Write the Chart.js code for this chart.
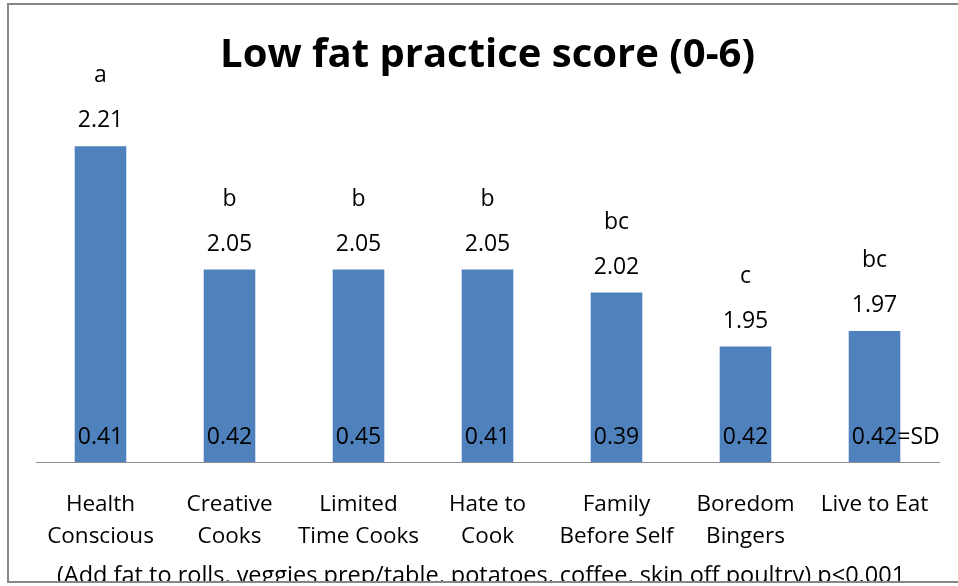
<!DOCTYPE html>
<html>
<head>
<meta charset="utf-8">
<script src="https://cdn.jsdelivr.net/npm/chart.js@4/dist/chart.umd.min.js"></script>
<style>
  html, body { margin: 0; padding: 0; background: #fff; }
  #wrap { width: 958px; height: 586px; position: relative; }
</style>
</head>
<body>
<div id="wrap"><canvas id="c" width="958" height="586"></canvas></div>
<script>
// Cook-type segments and their low fat practice scores
const categories = [
  ['Health', 'Conscious'],
  ['Creative', 'Cooks'],
  ['Limited', 'Time Cooks'],
  ['Hate to', 'Cook'],
  ['Family', 'Before Self'],
  ['Boredom', 'Bingers'],
  'Live to Eat'
];
const meanScores = [2.21, 2.05, 2.05, 2.05, 2.02, 1.95, 1.97];
const sdValues = [0.41, 0.42, 0.45, 0.41, 0.39, 0.42, 0.42];
const groupLetters = ['a', 'b', 'b', 'b', 'bc', 'c', 'bc'];
const yRange = [1.8, 2.3];

const FONT = '"Open Sans", "DejaVu Sans", sans-serif';
const footnote = '(Add fat to rolls, veggies prep/table, potatoes, coffee, skin off poultry) p<0.001';

// Mean, letter and SD labels plus the outer frame and footnote
const annotate = {
  id: 'annotate',
  afterDatasetsDraw(chart) {
    const ctx = chart.ctx;
    const meta = chart.getDatasetMeta(0);
    const area = chart.chartArea;
    ctx.save();
    ctx.fillStyle = '#000';
    ctx.textAlign = 'center';
    ctx.textBaseline = 'alphabetic';
    ctx.font = '23px ' + FONT;
    meta.data.forEach((bar, i) => {
      ctx.fillText(meanScores[i].toFixed(2), bar.x, bar.y - 19);
      ctx.fillText(groupLetters[i], bar.x, bar.y - 64);
      const sdText = sdValues[i].toFixed(2);
      ctx.fillText(sdText, bar.x, area.bottom - 18);
      if (i === meta.data.length - 1) {
        const w = ctx.measureText(sdText).width;
        ctx.textAlign = 'left';
        ctx.fillText('=SD', bar.x + w / 2, area.bottom - 18);
        ctx.textAlign = 'center';
      }
    });
    // footnote, cut off by the frame's lower edge
    ctx.save();
    ctx.beginPath();
    ctx.rect(0, 0, chart.width, 581);
    ctx.clip();
    ctx.font = '23.5px ' + FONT;
    ctx.fillText(footnote, 481, 583);
    ctx.restore();
    // frame
    ctx.strokeStyle = '#868686';
    ctx.lineWidth = 2;
    ctx.strokeRect(8, 4, 960, 578);
    ctx.restore();
  }
};

new Chart(document.getElementById('c'), {
  type: 'bar',
  data: {
    labels: categories,
    datasets: [{
      data: meanScores,
      backgroundColor: '#4F81BD',
      borderWidth: 0,
      barPercentage: 0.8,
      categoryPercentage: 0.5
    }]
  },
  options: {
    responsive: false,
    animation: false,
    devicePixelRatio: 1,
    layout: { padding: { left: 36, right: 19, top: 0, bottom: 0 } },
    plugins: {
      legend: { display: false },
      tooltip: { enabled: false },
      title: {
        display: true,
        text: 'Low fat practice score (0-6)',
        color: '#000',
        font: { family: FONT, size: 40, weight: 'bold', lineHeight: 1.05 },
        padding: { top: 35, bottom: 0 }
      }
    },
    scales: {
      y: {
        display: false,
        min: yRange[0],
        max: yRange[1]
      },
      x: {
        grid: { display: false, drawTicks: false },
        border: { display: true, color: '#8c8c8c', width: 1 },
        ticks: {
          color: '#000',
          font: { family: FONT, size: 22.5, lineHeight: 1.42 },
          padding: 27,
          autoSkip: false,
          maxRotation: 0,
          minRotation: 0
        },
        afterFit(scale) { scale.height = 124; }
      }
    }
  },
  plugins: [annotate]
});
</script>
</body>
</html>
